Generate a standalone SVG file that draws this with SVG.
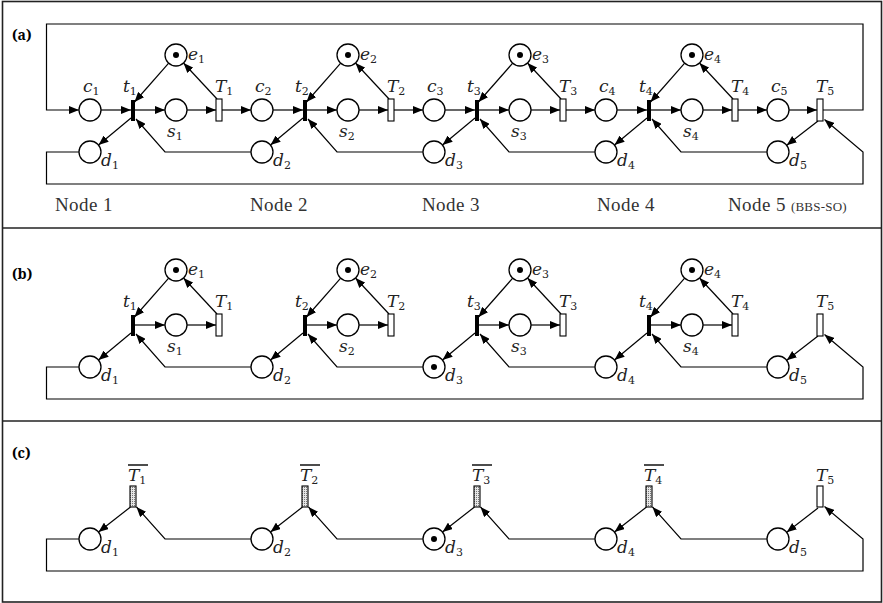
<svg xmlns="http://www.w3.org/2000/svg" width="883" height="603" viewBox="0 0 883 603">
  <style>
    .pl { fill: #fff; stroke: #000; stroke-width: 1.3; }
    .tok { fill: #000; }
    .bar { fill: #000; }
    .tr { fill: #fff; stroke: #000; stroke-width: 1.1; }
    .trc { fill: url(#dots); stroke: #000; stroke-width: 1.1; }
    .arc { fill: none; stroke: #000; stroke-width: 1.2; }
    .arr { fill: none; stroke: #000; stroke-width: 1.2; marker-end: url(#ah); }
    .m { font-family: 'DejaVu Serif', serif; font-style: italic; font-size: 17px; fill: #222; }
    .m tspan { font-style: normal; font-size: 11px; }
    .nd { font-family: 'Times New Roman', 'Liberation Serif', serif; font-size: 19px; fill: #333; letter-spacing: 0.4px; }
    .sc { font-size: 13px; letter-spacing: 0.2px; }
    .pn { font-family: 'Noto Serif', 'Liberation Serif', serif; font-weight: bold; font-size: 14px; fill: #000; }
    .frame { fill: none; stroke: #222; stroke-width: 1.6; }
  </style>
  <defs>
    <marker id="ah" viewBox="0 0 10 8" refX="10" refY="4" markerWidth="10" markerHeight="8" markerUnits="userSpaceOnUse" orient="auto">
      <path d="M0,0 L10,4 L0,8 z" fill="#000"/>
    </marker>
    <pattern id="dots" width="2" height="2" patternUnits="userSpaceOnUse">
      <rect width="2" height="2" fill="#e6e6e6"/>
      <rect width="1" height="1" fill="#777"/>
    </pattern>
  </defs>

  <!-- outer frame and panel separators -->
  <g id="frame">
    <rect class="frame" x="2.5" y="1.5" width="879" height="600.5" stroke-width="1.2"/>
    <line class="frame" x1="2.5" y1="228" x2="881.5" y2="228" stroke-width="2"/>
    <line class="frame" x1="2.5" y1="421" x2="881.5" y2="421" stroke-width="2"/>
  </g>

  <!-- ===================== panel (a) ===================== -->
  <g id="panel-a">
    <text class="pn" x="12" y="40">(a)</text>
    <g id="a-arcs">
      <path class="arr" d="M823,110 H863 V24 H46.5 V110 H79"/>
      <path class="arr" d="M79,152 H46.5 V184 H863 V152 L824.5,119.5"/>
      <!-- node 1 -->
      <path class="arr" d="M101,110 H131"/>
      <path class="arr" d="M135,110 H165"/>
      <path class="arr" d="M187,110 H216"/>
      <path class="arr" d="M222,110 H251"/>
      <path class="arr" d="M168.7,63.2 L134.5,102"/>
      <path class="arr" d="M217,99 L183.5,63"/>
      <path class="arr" d="M131,118 L98.5,145"/>
      <path class="arr" d="M251,152 H165 L136,119"/>
      <!-- node 2 -->
      <path class="arr" d="M273,110 H303"/>
      <path class="arr" d="M307,110 H337"/>
      <path class="arr" d="M359,110 H388"/>
      <path class="arr" d="M394,110 H423"/>
      <path class="arr" d="M340.7,63.2 L306.5,102"/>
      <path class="arr" d="M389,99 L355.5,63"/>
      <path class="arr" d="M303,118 L270.5,145"/>
      <path class="arr" d="M423,152 H337 L308,119"/>
      <!-- node 3 -->
      <path class="arr" d="M445,110 H475"/>
      <path class="arr" d="M479,110 H509"/>
      <path class="arr" d="M531,110 H560"/>
      <path class="arr" d="M566,110 H595"/>
      <path class="arr" d="M512.7,63.2 L478.5,102"/>
      <path class="arr" d="M561,99 L527.5,63"/>
      <path class="arr" d="M475,118 L442.5,145"/>
      <path class="arr" d="M595,152 H509 L480,119"/>
      <!-- node 4 -->
      <path class="arr" d="M617,110 H647"/>
      <path class="arr" d="M651,110 H681"/>
      <path class="arr" d="M703,110 H732"/>
      <path class="arr" d="M738,110 H767"/>
      <path class="arr" d="M684.7,63.2 L650.5,102"/>
      <path class="arr" d="M733,99 L699.5,63"/>
      <path class="arr" d="M647,118 L614.5,145"/>
      <path class="arr" d="M767,152 H681 L652,119"/>
      <!-- node 5 -->
      <path class="arr" d="M789,110 H817"/>
      <path class="arr" d="M818,121 L786.7,145.3"/>
    </g>

    <g id="a-node1">
      <circle class="pl" cx="90" cy="110" r="11"/>
      <rect class="bar" x="131" y="100" width="4" height="21"/>
      <circle class="pl" cx="176" cy="55" r="11"/><circle class="tok" cx="176" cy="55" r="3"/>
      <circle class="pl" cx="176" cy="110" r="11"/>
      <rect class="tr" x="216" y="99" width="6" height="22"/>
      <circle class="pl" cx="90" cy="152" r="11"/>
      <text class="m" x="83" y="92">c<tspan dy="3">1</tspan></text>
      <text class="m" x="123" y="92">t<tspan dy="3">1</tspan></text>
      <text class="m" x="188" y="60">e<tspan dy="3">1</tspan></text>
      <text class="m" x="167" y="137">s<tspan dy="3">1</tspan></text>
      <text class="m" x="215" y="92">T<tspan dy="3">1</tspan></text>
      <text class="m" x="101" y="166">d<tspan dy="3">1</tspan></text>
    </g>
    <g id="a-node2">
      <circle class="pl" cx="262" cy="110" r="11"/>
      <rect class="bar" x="303" y="100" width="4" height="21"/>
      <circle class="pl" cx="348" cy="55" r="11"/><circle class="tok" cx="348" cy="55" r="3"/>
      <circle class="pl" cx="348" cy="110" r="11"/>
      <rect class="tr" x="388" y="99" width="6" height="22"/>
      <circle class="pl" cx="262" cy="152" r="11"/>
      <text class="m" x="255" y="92">c<tspan dy="3">2</tspan></text>
      <text class="m" x="295" y="92">t<tspan dy="3">2</tspan></text>
      <text class="m" x="360" y="60">e<tspan dy="3">2</tspan></text>
      <text class="m" x="339" y="137">s<tspan dy="3">2</tspan></text>
      <text class="m" x="387" y="92">T<tspan dy="3">2</tspan></text>
      <text class="m" x="273" y="166">d<tspan dy="3">2</tspan></text>
    </g>
    <g id="a-node3">
      <circle class="pl" cx="434" cy="110" r="11"/>
      <rect class="bar" x="475" y="100" width="4" height="21"/>
      <circle class="pl" cx="520" cy="55" r="11"/><circle class="tok" cx="520" cy="55" r="3"/>
      <circle class="pl" cx="520" cy="110" r="11"/>
      <rect class="tr" x="560" y="99" width="6" height="22"/>
      <circle class="pl" cx="434" cy="152" r="11"/>
      <text class="m" x="427" y="92">c<tspan dy="3">3</tspan></text>
      <text class="m" x="467" y="92">t<tspan dy="3">3</tspan></text>
      <text class="m" x="532" y="60">e<tspan dy="3">3</tspan></text>
      <text class="m" x="511" y="137">s<tspan dy="3">3</tspan></text>
      <text class="m" x="559" y="92">T<tspan dy="3">3</tspan></text>
      <text class="m" x="445" y="166">d<tspan dy="3">3</tspan></text>
    </g>
    <g id="a-node4">
      <circle class="pl" cx="606" cy="110" r="11"/>
      <rect class="bar" x="647" y="100" width="4" height="21"/>
      <circle class="pl" cx="692" cy="55" r="11"/><circle class="tok" cx="692" cy="55" r="3"/>
      <circle class="pl" cx="692" cy="110" r="11"/>
      <rect class="tr" x="732" y="99" width="6" height="22"/>
      <circle class="pl" cx="606" cy="152" r="11"/>
      <text class="m" x="599" y="92">c<tspan dy="3">4</tspan></text>
      <text class="m" x="639" y="92">t<tspan dy="3">4</tspan></text>
      <text class="m" x="704" y="60">e<tspan dy="3">4</tspan></text>
      <text class="m" x="683" y="137">s<tspan dy="3">4</tspan></text>
      <text class="m" x="731" y="92">T<tspan dy="3">4</tspan></text>
      <text class="m" x="617" y="166">d<tspan dy="3">4</tspan></text>
    </g>
    <g id="a-node5">
      <circle class="pl" cx="778" cy="110" r="11"/>
      <rect class="tr" x="817" y="99" width="6" height="22"/>
      <circle class="pl" cx="778" cy="152" r="11"/>
      <text class="m" x="771" y="92">c<tspan dy="3">5</tspan></text>
      <text class="m" x="816" y="92">T<tspan dy="3">5</tspan></text>
      <text class="m" x="789" y="166">d<tspan dy="3">5</tspan></text>
    </g>

    <g id="node-captions">
      <text class="nd" x="55" y="211">Node 1</text>
      <text class="nd" x="250" y="211">Node 2</text>
      <text class="nd" x="422" y="211">Node 3</text>
      <text class="nd" x="597" y="211">Node 4</text>
      <text class="nd" x="728" y="211">Node 5 <tspan class="sc">(BBS-SO)</tspan></text>
    </g>
  </g>

  <!-- ===================== panel (b) ===================== -->
  <g id="panel-b" transform="translate(0,215)">
    <text class="pn" x="12" y="64">(b)</text>
    <g id="b-arcs">
      <path class="arr" d="M79,152 H46.5 V184 H863 V152 L824.5,119.5"/>
      <path class="arr" d="M135,110 H165"/>
      <path class="arr" d="M187,110 H216"/>
      <path class="arr" d="M168.7,63.2 L134.5,102"/>
      <path class="arr" d="M217,99 L183.5,63"/>
      <path class="arr" d="M131,118 L98.5,145"/>
      <path class="arr" d="M251,152 H165 L136,119"/>
      <path class="arr" d="M307,110 H337"/>
      <path class="arr" d="M359,110 H388"/>
      <path class="arr" d="M340.7,63.2 L306.5,102"/>
      <path class="arr" d="M389,99 L355.5,63"/>
      <path class="arr" d="M303,118 L270.5,145"/>
      <path class="arr" d="M423,152 H337 L308,119"/>
      <path class="arr" d="M479,110 H509"/>
      <path class="arr" d="M531,110 H560"/>
      <path class="arr" d="M512.7,63.2 L478.5,102"/>
      <path class="arr" d="M561,99 L527.5,63"/>
      <path class="arr" d="M475,118 L442.5,145"/>
      <path class="arr" d="M595,152 H509 L480,119"/>
      <path class="arr" d="M651,110 H681"/>
      <path class="arr" d="M703,110 H732"/>
      <path class="arr" d="M684.7,63.2 L650.5,102"/>
      <path class="arr" d="M733,99 L699.5,63"/>
      <path class="arr" d="M647,118 L614.5,145"/>
      <path class="arr" d="M767,152 H681 L652,119"/>
      <path class="arr" d="M818,121 L786.7,145.3"/>
    </g>
    <g id="b-node1">
      <rect class="bar" x="131" y="100" width="4" height="21"/>
      <circle class="pl" cx="176" cy="55" r="11"/><circle class="tok" cx="176" cy="55" r="3"/>
      <circle class="pl" cx="176" cy="110" r="11"/>
      <rect class="tr" x="216" y="99" width="6" height="22"/>
      <circle class="pl" cx="90" cy="152" r="11"/>
      <text class="m" x="123" y="92">t<tspan dy="3">1</tspan></text>
      <text class="m" x="188" y="60">e<tspan dy="3">1</tspan></text>
      <text class="m" x="167" y="137">s<tspan dy="3">1</tspan></text>
      <text class="m" x="215" y="92">T<tspan dy="3">1</tspan></text>
      <text class="m" x="101" y="166">d<tspan dy="3">1</tspan></text>
    </g>
    <g id="b-node2">
      <rect class="bar" x="303" y="100" width="4" height="21"/>
      <circle class="pl" cx="348" cy="55" r="11"/><circle class="tok" cx="348" cy="55" r="3"/>
      <circle class="pl" cx="348" cy="110" r="11"/>
      <rect class="tr" x="388" y="99" width="6" height="22"/>
      <circle class="pl" cx="262" cy="152" r="11"/>
      <text class="m" x="295" y="92">t<tspan dy="3">2</tspan></text>
      <text class="m" x="360" y="60">e<tspan dy="3">2</tspan></text>
      <text class="m" x="339" y="137">s<tspan dy="3">2</tspan></text>
      <text class="m" x="387" y="92">T<tspan dy="3">2</tspan></text>
      <text class="m" x="273" y="166">d<tspan dy="3">2</tspan></text>
    </g>
    <g id="b-node3">
      <rect class="bar" x="475" y="100" width="4" height="21"/>
      <circle class="pl" cx="520" cy="55" r="11"/><circle class="tok" cx="520" cy="55" r="3"/>
      <circle class="pl" cx="520" cy="110" r="11"/>
      <rect class="tr" x="560" y="99" width="6" height="22"/>
      <circle class="pl" cx="434" cy="152" r="11"/><circle class="tok" cx="434" cy="152" r="3"/>
      <text class="m" x="467" y="92">t<tspan dy="3">3</tspan></text>
      <text class="m" x="532" y="60">e<tspan dy="3">3</tspan></text>
      <text class="m" x="511" y="137">s<tspan dy="3">3</tspan></text>
      <text class="m" x="559" y="92">T<tspan dy="3">3</tspan></text>
      <text class="m" x="445" y="166">d<tspan dy="3">3</tspan></text>
    </g>
    <g id="b-node4">
      <rect class="bar" x="647" y="100" width="4" height="21"/>
      <circle class="pl" cx="692" cy="55" r="11"/><circle class="tok" cx="692" cy="55" r="3"/>
      <circle class="pl" cx="692" cy="110" r="11"/>
      <rect class="tr" x="732" y="99" width="6" height="22"/>
      <circle class="pl" cx="606" cy="152" r="11"/>
      <text class="m" x="639" y="92">t<tspan dy="3">4</tspan></text>
      <text class="m" x="704" y="60">e<tspan dy="3">4</tspan></text>
      <text class="m" x="683" y="137">s<tspan dy="3">4</tspan></text>
      <text class="m" x="731" y="92">T<tspan dy="3">4</tspan></text>
      <text class="m" x="617" y="166">d<tspan dy="3">4</tspan></text>
    </g>
    <g id="b-node5">
      <rect class="tr" x="817" y="99" width="6" height="22"/>
      <circle class="pl" cx="778" cy="152" r="11"/>
      <text class="m" x="816" y="92">T<tspan dy="3">5</tspan></text>
      <text class="m" x="789" y="166">d<tspan dy="3">5</tspan></text>
    </g>
  </g>

  <!-- ===================== panel (c) ===================== -->
  <g id="panel-c" transform="translate(0,387)">
    <text class="pn" x="12" y="71">(c)</text>
    <g id="c-arcs">
      <path class="arr" d="M79,152 H46.5 V184 H863 V152 L824.5,119.5"/>
      <path class="arr" d="M130.5,120 L98.5,145"/>
      <path class="arr" d="M251,152 H165 L136.5,120"/>
      <path class="arr" d="M302.5,120 L270.5,145"/>
      <path class="arr" d="M423,152 H337 L308.5,120"/>
      <path class="arr" d="M474.5,120 L442.5,145"/>
      <path class="arr" d="M595,152 H509 L480.5,120"/>
      <path class="arr" d="M646.5,120 L614.5,145"/>
      <path class="arr" d="M767,152 H681 L652.5,120"/>
      <path class="arr" d="M818,121 L786.7,145.3"/>
    </g>
    <g id="c-node1">
      <rect class="trc" x="130" y="99" width="6" height="21"/>
      <line x1="128" y1="78" x2="148" y2="78" stroke="#000" stroke-width="1.4"/>
      <text class="m" x="128" y="94">T<tspan dy="3">1</tspan></text>
      <circle class="pl" cx="90" cy="152" r="11"/>
      <text class="m" x="101" y="166">d<tspan dy="3">1</tspan></text>
    </g>
    <g id="c-node2">
      <rect class="trc" x="302" y="99" width="6" height="21"/>
      <line x1="300" y1="78" x2="320" y2="78" stroke="#000" stroke-width="1.4"/>
      <text class="m" x="300" y="94">T<tspan dy="3">2</tspan></text>
      <circle class="pl" cx="262" cy="152" r="11"/>
      <text class="m" x="273" y="166">d<tspan dy="3">2</tspan></text>
    </g>
    <g id="c-node3">
      <rect class="trc" x="474" y="99" width="6" height="21"/>
      <line x1="472" y1="78" x2="492" y2="78" stroke="#000" stroke-width="1.4"/>
      <text class="m" x="472" y="94">T<tspan dy="3">3</tspan></text>
      <circle class="pl" cx="434" cy="152" r="11"/><circle class="tok" cx="434" cy="152" r="3"/>
      <text class="m" x="445" y="166">d<tspan dy="3">3</tspan></text>
    </g>
    <g id="c-node4">
      <rect class="trc" x="646" y="99" width="6" height="21"/>
      <line x1="644" y1="78" x2="664" y2="78" stroke="#000" stroke-width="1.4"/>
      <text class="m" x="644" y="94">T<tspan dy="3">4</tspan></text>
      <circle class="pl" cx="606" cy="152" r="11"/>
      <text class="m" x="617" y="166">d<tspan dy="3">4</tspan></text>
    </g>
    <g id="c-node5">
      <rect class="tr" x="817" y="99" width="6" height="21"/>
      <text class="m" x="816" y="94">T<tspan dy="3">5</tspan></text>
      <circle class="pl" cx="778" cy="152" r="11"/>
      <text class="m" x="789" y="166">d<tspan dy="3">5</tspan></text>
    </g>
  </g>
</svg>
